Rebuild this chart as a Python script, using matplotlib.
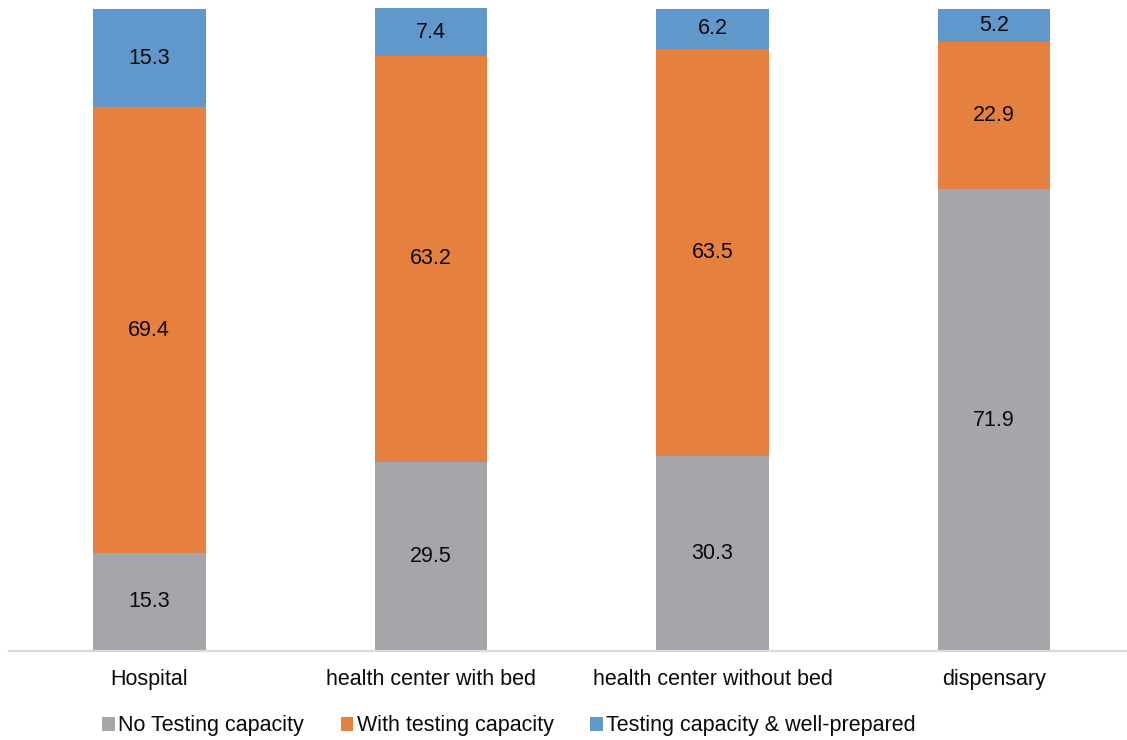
import matplotlib.pyplot as plt
import numpy as np

categories = ["Hospital", "health center with bed", "health center without bed", "dispensary"]
no_testing = [15.3, 29.5, 30.3, 71.9]
with_testing = [69.4, 63.2, 63.5, 22.9]
well_prepared = [15.3, 7.4, 6.2, 5.2]
series_names = ["No Testing capacity", "With testing capacity", "Testing capacity & well-prepared"]
colors = ["#A5A6A9", "#E6803F", "#6198CB"]

plt.rcParams['font.family'] = ['Liberation Sans', 'DejaVu Sans']

fig = plt.figure(figsize=(11.27, 7.4), dpi=100)
ax = fig.add_axes([8.5 / 1127, 1 - 651 / 740, 4 * 281.6 / 1127, 642 / 740])

x = np.arange(len(categories))
width = 0.40
bottom = np.zeros(len(categories))
handles = []
for vals, name, col in zip([no_testing, with_testing, well_prepared], series_names, colors):
    vals = np.array(vals)
    bars = ax.bar(x, vals, width, bottom=bottom, color=col, label=name,
                  linewidth=0, clip_on=False)
    handles.append(bars)
    for xi, b, v in zip(x, bottom, vals):
        ax.text(xi, b + v / 2, f"{v:.1f}", ha="center", va="center",
                fontsize=15.5, color="#0A0A0A")
    bottom += vals

ax.set_xlim(-0.5, 3.5)
ax.set_ylim(0, 100)
for s in ["top", "right", "left"]:
    ax.spines[s].set_visible(False)
ax.spines["bottom"].set_color("#D9D9D9")
ax.spines["bottom"].set_linewidth(1.6)
ax.set_yticks([])
ax.set_xticks(x)
ax.set_xticklabels(categories, fontsize=15.5, color="#0A0A0A")
ax.tick_params(axis="x", length=0, pad=13)

fig.legend(handles=handles, labels=series_names, loc="center",
           bbox_to_anchor=(509 / 1127, 1 - 726 / 740), ncol=3, frameon=False,
           fontsize=15.5, handlelength=0.6, handleheight=0.6, handletextpad=0.15,
           columnspacing=1.7, labelcolor="#0A0A0A")

fig.savefig("out.png", dpi=100)
